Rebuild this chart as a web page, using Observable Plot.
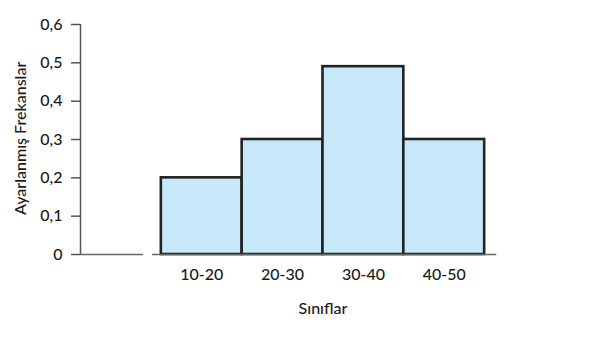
<!DOCTYPE html>
<html>
<head>
<meta charset="utf-8">
<script src="https://cdn.jsdelivr.net/npm/d3@7"></script>
<script src="https://cdn.jsdelivr.net/npm/@observablehq/plot@0.6"></script>
<style>
body { margin: 0; background: #fff; }
</style>
</head>
<body>
<div id="chart"></div>
<script>
const classLabels = ["10-20", "20-30", "30-40", "40-50"];
const classLo = [10, 20, 30, 40];
const classHi = [20, 30, 40, 50];
const freqs = [0.2, 0.3, 0.49, 0.3];
const yTicks = [0, 0.1, 0.2, 0.3, 0.4, 0.5, 0.6];
const yTickLabels = ["0", "0,1", "0,2", "0,3", "0,4", "0,5", "0,6"];
const baseSegments = [[0, 7.8], [8.9, 51.5]];

const data = classLabels.map((c, i) => ({label: c, lo: classLo[i], hi: classHi[i], mid: (classLo[i] + classHi[i]) / 2, v: freqs[i]}));
const segs = baseSegments.map(([a, b]) => ({a, b}));
const ticks = yTicks.map((t, i) => ({t, s: yTickLabels[i]}));

const chart = Plot.plot({
  width: 597,
  height: 359,
  marginLeft: 80,
  marginRight: 32,
  marginTop: 24,
  marginBottom: 105,
  style: {fontFamily: "Lato, 'Open Sans', sans-serif", fontSize: "16px", fontWeight: 500, color: "#1a1a1a", background: "#fff"},
  x: {domain: [0, 60], axis: null},
  y: {domain: [0, 0.6], axis: null},
  marks: [
    Plot.rectY(data, {x1: "lo", x2: "hi", y: "v", fill: "#c6e8f8", stroke: "#222", strokeWidth: 2.6}),
    Plot.ruleY(segs, {y: 0, x1: "a", x2: "b", stroke: "#666", strokeWidth: 1.5}),
    Plot.ruleX([0], {y1: 0, y2: 0.6, stroke: "#555", strokeWidth: 1.5}),
    Plot.ruleY(ticks, {y: "t", x1: 0, x2: 0, insetLeft: -9, stroke: "#555", strokeWidth: 1.5}),
    Plot.text(ticks, {x: 0, y: "t", text: "s", textAnchor: "end", dx: -18, fontSize: 16, fill: "#1a1a1a"}),
    Plot.text(data, {x: "mid", y: 0, text: "label", dy: 20, fontSize: 16, fill: "#1a1a1a"}),
    Plot.text(["Sınıflar"], {x: 30, y: 0, dy: 54, fontSize: 16, fill: "#1a1a1a"}),
    Plot.text(["Ayarlanmış Frekanslar"], {x: 0, y: 0.303, dx: -60, rotate: -90, fontSize: 16, fill: "#1a1a1a"})
  ]
});
document.getElementById("chart").appendChild(chart);
</script>
</body>
</html>
